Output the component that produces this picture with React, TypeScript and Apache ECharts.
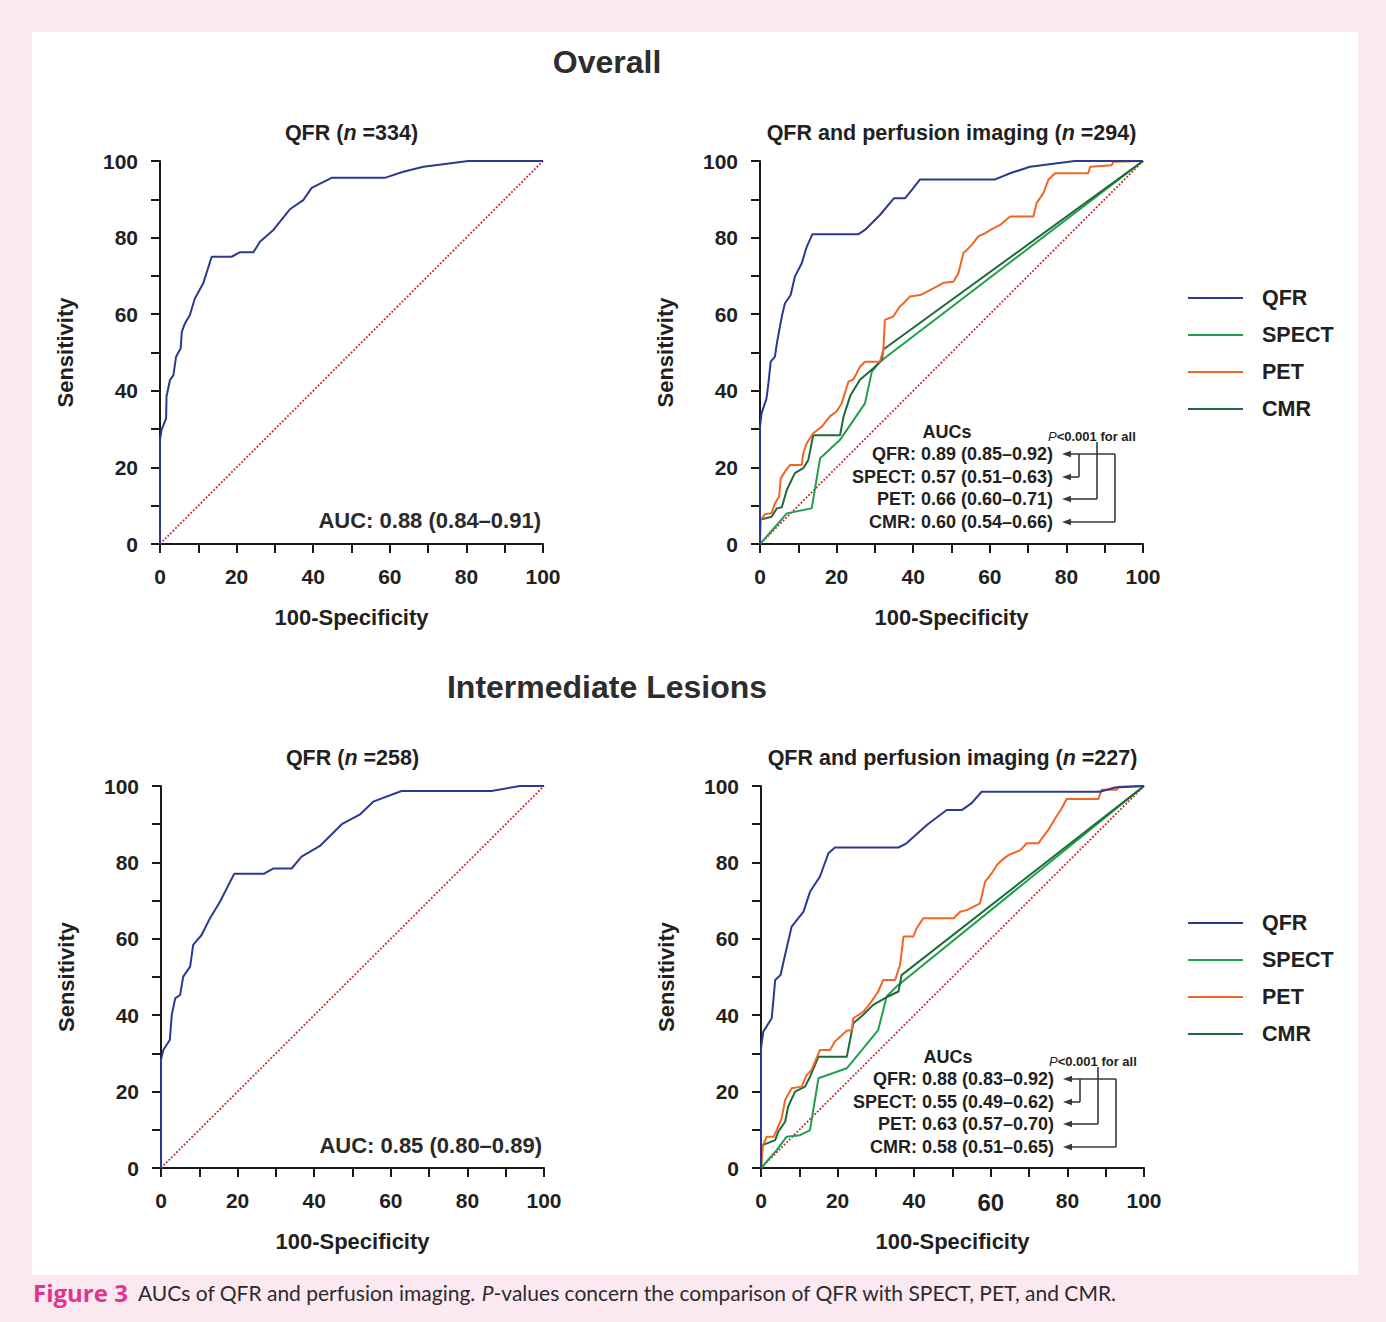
import React, { useEffect, useRef } from "react";
import * as echarts from "echarts";

const W = 1386;
const H = 1322;
const FONT = "'Liberation Sans', Arial, Helvetica, sans-serif";
const TXT = "#231f20";

// ---------- data (x = 100-Specificity, y = Sensitivity) ----------
const overallQfrOnly: number[][] = [
  [0, 0], [0, 27.2], [0.4, 29.8], [1.6, 32.8], [1.7, 38.5], [2.6, 42.8], [3.5, 44.1],
  [4.2, 48.9], [5.4, 51.1], [5.7, 55.4], [6.5, 57.6], [7.8, 59.8], [9.1, 64.1],
  [11.3, 68.1], [13.5, 75.0], [18.7, 75.0], [20.9, 76.2], [24.4, 76.2], [26.1, 78.9],
  [29.6, 82.0], [33.9, 87.4], [37.4, 89.8], [39.6, 93.0], [44.8, 95.6], [58.7, 95.6],
  [63.5, 97.2], [68.8, 98.5], [80.5, 100], [100, 100],
];

const overallQFR: number[][] = [
  [0, 0], [0, 30.6], [0.4, 34.1], [1.7, 38.0], [2.2, 42.0], [2.8, 47.6], [3.9, 48.9],
  [4.4, 52.4], [5.7, 59.4], [6.5, 62.8], [8.0, 65.0], [9.1, 69.8], [10.9, 73.3],
  [12.2, 77.6], [13.7, 80.9], [25.7, 80.9], [27.4, 82.0], [31.3, 85.9], [35.0, 90.3],
  [37.9, 90.3], [39.6, 92.4], [41.8, 95.2], [61.4, 95.2], [65.3, 96.8], [70.5, 98.5],
  [82.2, 100], [100, 100],
];
const overallPET: number[][] = [
  [0, 0], [0.2, 6.3], [1.3, 7.8], [3.0, 8.0], [3.9, 10.6], [5.0, 12.4], [5.4, 17.1],
  [6.5, 18.9], [7.8, 20.6], [10.9, 20.6], [11.3, 23.7], [12.2, 26.3], [13.9, 28.9],
  [16.1, 30.6], [18.3, 33.4], [20.0, 34.6], [21.3, 36.7], [23.1, 42.4], [24.4, 43.0],
  [26.1, 46.3], [27.4, 47.6], [31.3, 47.6], [32.2, 50.6], [32.6, 58.5], [34.8, 59.4],
  [36.5, 62.0], [37.4, 62.8], [39.1, 64.6], [41.8, 65.0], [44.4, 66.3], [46.1, 67.2],
  [47.9, 68.2], [50.5, 68.5], [51.8, 70.7], [53.1, 75.9], [55.3, 78.1], [57.0, 80.3],
  [58.7, 81.1], [60.9, 82.4], [62.7, 83.3], [65.3, 85.5], [71.4, 85.5], [72.2, 89.0],
  [74.0, 91.6], [75.3, 95.1], [77.0, 96.8], [85.7, 96.8], [86.2, 98.5], [91.8, 98.9],
  [92.3, 99.8], [100, 100],
];
const overallCMR: number[][] = [
  [0, 0], [0, 6.3], [3.0, 7.1], [4.4, 9.3], [5.7, 9.6], [7.0, 14.1], [9.1, 18.5],
  [11.3, 19.8], [12.6, 21.9], [13.9, 28.4], [20.9, 28.4], [21.8, 33.2], [23.6, 38.8],
  [26.1, 42.9], [29.6, 45.9], [31.8, 48.0], [32.2, 50.8], [100, 100],
];
const overallSPECT: number[][] = [
  [0, 0], [1.7, 1.9], [7.0, 8.0], [13.5, 9.3], [15.7, 22.4], [20.9, 27.2], [27.4, 36.7],
  [29.2, 45.0], [31.3, 47.6], [100, 100],
];

const interQfrOnly: number[][] = [
  [0, 0], [0, 28.3], [0.6, 30.9], [2.3, 33.5], [2.8, 40.0], [3.7, 44.4], [5.0, 45.3],
  [5.8, 50.1], [7.6, 52.7], [8.4, 58.4], [10.6, 61.0], [12.8, 65.4], [15.4, 69.7],
  [19.1, 77.0], [26.8, 77.0], [29.3, 78.4], [34.1, 78.4], [36.7, 81.5], [41.5, 84.3],
  [47.2, 90.0], [52.0, 92.6], [55.4, 95.9], [62.8, 98.7], [86.3, 98.7], [93.7, 100],
  [100, 100],
];

const interQFR: number[][] = [
  [0, 0], [0, 31.3], [0.6, 35.7], [2.8, 39.2], [3.7, 49.2], [5.1, 50.5], [6.3, 55.8],
  [8.0, 63.2], [11.1, 67.1], [12.8, 72.3], [15.4, 76.3], [17.6, 82.4], [19.3, 83.9],
  [35.9, 83.9], [38.0, 85.0], [43.3, 89.8], [48.5, 93.7], [52.4, 93.7], [55.0, 95.5],
  [57.6, 98.5], [88.5, 98.5], [92.4, 99.6], [100, 100],
];
const interPET: number[][] = [
  [0, 0], [0.4, 5.6], [1.5, 8.2], [3.3, 8.2], [4.1, 9.9], [5.4, 13.0], [6.3, 17.8],
  [8.0, 20.9], [10.6, 21.3], [11.9, 24.3], [13.2, 25.7], [15.4, 30.9], [18.0, 30.9],
  [19.3, 33.1], [22.4, 35.9], [23.7, 36.1], [24.1, 39.2], [26.7, 40.9], [28.5, 43.1],
  [30.6, 46.2], [31.9, 49.2], [35.0, 49.2], [36.3, 53.1], [37.2, 60.6], [39.8, 60.6],
  [40.6, 62.7], [42.4, 65.4], [50.3, 65.4], [52.0, 67.1], [53.7, 67.5], [57.2, 69.3],
  [58.5, 74.9], [60.2, 77.1], [61.6, 79.3], [62.9, 80.6], [64.6, 81.9], [67.7, 83.2],
  [69.4, 85.0], [72.4, 85.0], [75.0, 88.5], [76.8, 91.5], [78.5, 94.1], [79.8, 96.6],
  [88.1, 96.6], [88.9, 99.0], [92.9, 99.0], [93.3, 99.8], [100, 100],
];
const interCMR: number[][] = [
  [0, 0], [0.4, 6.0], [3.7, 7.3], [4.5, 9.5], [6.3, 12.1], [7.1, 16.1], [8.9, 20.0],
  [11.5, 21.3], [12.8, 23.9], [15.0, 29.1], [22.4, 29.1], [24.1, 37.9], [26.7, 40.1],
  [29.3, 42.7], [33.2, 44.9], [35.9, 46.2], [36.7, 50.5], [100, 100],
];
const interSPECT: number[][] = [
  [0, 0], [4.1, 4.7], [6.7, 8.2], [10.2, 8.6], [12.8, 9.9], [15.0, 23.5], [22.4, 26.1],
  [30.6, 36.1], [32.8, 44.9], [35.4, 47.5], [100, 100],
];

const diagonal: number[][] = [[0, 0], [100, 100]];

const seriesNames = ["QFR", "SPECT", "PET", "CMR"];
const seriesColors: Record<string, string> = {
  QFR: "#2b3990",
  SPECT: "#1fa04c",
  PET: "#f26522",
  CMR: "#1d6b3a",
};

const sectionTitles = ["Overall", "Intermediate Lesions"];
const panelTitles = [
  ["QFR (", " =334)"],
  ["QFR and perfusion imaging (", " =294)"],
  ["QFR (", " =258)"],
  ["QFR and perfusion imaging (", " =227)"],
];
const singleAUC = ["AUC: 0.88 (0.84–0.91)", "AUC: 0.85 (0.80–0.89)"];
const overallAUCs = [
  "QFR: 0.89 (0.85–0.92)",
  "SPECT: 0.57 (0.51–0.63)",
  "PET: 0.66 (0.60–0.71)",
  "CMR: 0.60 (0.54–0.66)",
];
const interAUCs = [
  "QFR: 0.88 (0.83–0.92)",
  "SPECT: 0.55 (0.49–0.62)",
  "PET: 0.63 (0.57–0.70)",
  "CMR: 0.58 (0.51–0.65)",
];
const xAxisName = "100-Specificity";
const yAxisName = "Sensitivity";
const caption = {
  label: "Figure 3",
  pre: "AUCs of QFR and perfusion imaging. ",
  italic: "P",
  post: "-values concern the comparison of QFR with SPECT, PET, and CMR.",
};

// ---------- layout ----------
const grids = [
  { left: 160, top: 161, width: 383, height: 383 },
  { left: 760, top: 161, width: 383, height: 383 },
  { left: 161, top: 786, width: 383, height: 382 },
  { left: 761, top: 786, width: 383, height: 382 },
];

const AX = "#1a1a1a";

function xAxisOf(gi: number) {
  const big = gi === 3;
  return {
    type: "value",
    gridIndex: gi,
    min: 0,
    max: 100,
    interval: 20,
    name: xAxisName,
    nameLocation: "middle",
    nameGap: 62,
    nameTextStyle: { fontSize: 22, fontWeight: "bold", color: TXT, fontFamily: FONT },
    axisLine: { show: true, onZero: false, lineStyle: { color: AX, width: 2 } },
    axisTick: { show: true, length: 9, lineStyle: { color: AX, width: 2 } },
    minorTick: { show: true, splitNumber: 2, length: 9, lineStyle: { color: AX, width: 2 } },
    splitLine: { show: false },
    axisLabel: {
      fontSize: 21,
      fontWeight: "bold",
      color: TXT,
      fontFamily: FONT,
      margin: 22,
      formatter: big ? (v: number) => (v === 60 ? "{big|60}" : String(v)) : undefined,
      rich: big ? { big: { fontSize: 24, fontWeight: "bold", color: TXT, fontFamily: FONT } } : undefined,
    },
  };
}
function yAxisOf(gi: number) {
  return {
    type: "value",
    gridIndex: gi,
    min: 0,
    max: 100,
    interval: 20,
    name: yAxisName,
    nameLocation: "middle",
    nameRotate: 90,
    nameGap: 84,
    nameTextStyle: { fontSize: 22, fontWeight: "bold", color: TXT, fontFamily: FONT },
    axisLine: { show: true, onZero: false, lineStyle: { color: AX, width: 2 } },
    axisTick: { show: true, length: 9, lineStyle: { color: AX, width: 2 } },
    minorTick: { show: true, splitNumber: 2, length: 9, lineStyle: { color: AX, width: 2 } },
    splitLine: { show: false },
    axisLabel: { fontSize: 21, fontWeight: "bold", color: TXT, fontFamily: FONT, margin: 22 },
  };
}

function lineSeries(name: string, data: number[][], gi: number) {
  return {
    type: "line",
    name,
    xAxisIndex: gi,
    yAxisIndex: gi,
    data,
    color: seriesColors[name],
    symbol: "none",
    lineStyle: { width: 2, color: seriesColors[name] },
    z: name === "QFR" ? 5 : 4,
  };
}
function diagSeries(gi: number) {
  return {
    type: "line",
    name: "diag",
    xAxisIndex: gi,
    yAxisIndex: gi,
    data: diagonal,
    symbol: "none",
    color: "#c1272d",
    lineStyle: { width: 1.8, type: "dotted", color: "#c1272d" },
    z: 3,
  };
}

function titleText(gi: number) {
  const g = grids[gi];
  const [a, b] = panelTitles[gi];
  return {
    type: "text",
    x: g.left + g.width / 2,
    y: g.top - 28,
    style: {
      text: `{b|${a}}{i|n}{b|${b}}`,
      align: "center",
      verticalAlign: "middle",
      rich: {
        b: { fontSize: 21.5, fontWeight: "bold", fill: TXT, fontFamily: FONT },
        i: { fontSize: 21.5, fontWeight: "bold", fontStyle: "italic", fill: TXT, fontFamily: FONT },
      },
    },
  };
}

function aucBlock(gi: number, lines: string[]) {
  const g = grids[gi];
  const ys = [293, 316, 338, 361];
  const tipX = 302;
  const lc = "#3a3a3a";
  const children: any[] = [
    {
      type: "text",
      x: 187,
      y: 271,
      style: { text: "AUCs", align: "center", verticalAlign: "middle", fontSize: 18, fontWeight: "bold", fill: TXT, fontFamily: FONT },
    },
    {
      type: "text",
      x: 288,
      y: 275,
      style: {
        text: "{pi|P}{p|<0.001 for all}",
        align: "left",
        verticalAlign: "middle",
        rich: {
          pi: { fontSize: 13, fontStyle: "italic", fill: TXT, fontFamily: FONT },
          p: { fontSize: 13, fontWeight: "bold", fill: TXT, fontFamily: FONT },
        },
      },
    },
  ];
  lines.forEach((t, i) => {
    children.push({
      type: "text",
      x: 293,
      y: ys[i],
      style: { text: t, align: "right", verticalAlign: "middle", fontSize: 18, fontWeight: "bold", fill: TXT, fontFamily: FONT },
    });
    children.push({
      type: "polygon",
      shape: { points: [[tipX, ys[i]], [tipX + 9, ys[i] - 3.2], [tipX + 9, ys[i] + 3.2]] },
      style: { fill: lc },
    });
  });
  const ends = [355, 319, 337, 355];
  ends.forEach((ex, i) => {
    children.push({
      type: "line",
      shape: { x1: tipX + 8, y1: ys[i], x2: ex, y2: ys[i] },
      style: { stroke: lc, lineWidth: 1.6 },
    });
  });
  children.push(
    { type: "line", shape: { x1: 319, y1: ys[0], x2: 319, y2: ys[1] }, style: { stroke: lc, lineWidth: 1.6 } },
    { type: "line", shape: { x1: 337, y1: 281, x2: 337, y2: ys[2] }, style: { stroke: lc, lineWidth: 1.6 } },
    { type: "line", shape: { x1: 355, y1: ys[0], x2: 355, y2: ys[3] }, style: { stroke: lc, lineWidth: 1.6 } }
  );
  return { type: "group", x: g.left, y: g.top, children };
}

function singleAucText(gi: number, text: string) {
  const g = grids[gi];
  return {
    type: "text",
    x: g.left + 381,
    y: g.top + 359,
    style: { text, align: "right", verticalAlign: "middle", fontSize: 22, fontWeight: "bold", fill: "#2a2a2a", fontFamily: FONT },
  };
}

function legendOf(top: number) {
  return {
    orient: "vertical",
    left: 1183,
    top,
    data: seriesNames,
    icon: "rect",
    itemWidth: 55,
    itemHeight: 2,
    itemGap: 15,
    selectedMode: false,
    textStyle: { fontSize: 21.5, fontWeight: "bold", color: TXT, fontFamily: FONT, padding: [0, 0, 0, 14] },
  };
}

export default function App() {
  const ref = useRef<HTMLDivElement>(null);
  useEffect(() => {
    if (!ref.current) return;
    const chart = echarts.init(ref.current, undefined, { renderer: "svg", width: W, height: H });
    const option: any = {
      animation: false,
      backgroundColor: "#fbe9f1",
      grid: grids.map((g) => ({ ...g, containLabel: false, outerBoundsMode: "none" })),
      xAxis: grids.map((_, i) => xAxisOf(i)),
      yAxis: grids.map((_, i) => yAxisOf(i)),
      legend: [legendOf(282), legendOf(907)],
      series: [
        diagSeries(0),
        lineSeries("QFR", overallQfrOnly, 0),
        diagSeries(1),
        lineSeries("SPECT", overallSPECT, 1),
        lineSeries("CMR", overallCMR, 1),
        lineSeries("PET", overallPET, 1),
        lineSeries("QFR", overallQFR, 1),
        diagSeries(2),
        lineSeries("QFR", interQfrOnly, 2),
        diagSeries(3),
        lineSeries("SPECT", interSPECT, 3),
        lineSeries("CMR", interCMR, 3),
        lineSeries("PET", interPET, 3),
        lineSeries("QFR", interQFR, 3),
      ],
      graphic: [
        {
          type: "rect",
          z: -100,
          shape: { x: 32, y: 32, width: 1326, height: 1243 },
          style: { fill: "#ffffff" },
        },
        {
          type: "text",
          x: 607,
          y: 62,
          style: { text: sectionTitles[0], align: "center", verticalAlign: "middle", fontSize: 32, fontWeight: "bold", fill: "#2d2d2d", fontFamily: FONT },
        },
        {
          type: "text",
          x: 607,
          y: 687,
          style: { text: sectionTitles[1], align: "center", verticalAlign: "middle", fontSize: 32, fontWeight: "bold", fill: "#2d2d2d", fontFamily: FONT },
        },
        titleText(0),
        titleText(1),
        titleText(2),
        titleText(3),
        singleAucText(0, singleAUC[0]),
        singleAucText(2, singleAUC[1]),
        aucBlock(1, overallAUCs),
        aucBlock(3, interAUCs),
        {
          type: "text",
          x: 33,
          y: 1292,
          style: {
            text: `{f|${caption.label}}{t|  ${caption.pre}}{ti|${caption.italic}}{t|${caption.post}}`,
            align: "left",
            verticalAlign: "middle",
            rich: {
              f: { fontSize: 24, fontWeight: "bold", fill: "#e3338c", fontFamily: "'Open Sans', " + FONT },
              t: { fontSize: 21, fill: "#2b2b2b", fontFamily: "Lato, " + FONT },
              ti: { fontSize: 21, fontStyle: "italic", fill: "#2b2b2b", fontFamily: "Lato, " + FONT },
            },
          },
        },
      ],
    };
    chart.setOption(option);
    return () => chart.dispose();
  }, []);
  return <div ref={ref} style={{ position: "absolute", left: 0, top: 0, width: W, height: H }} />;
}
